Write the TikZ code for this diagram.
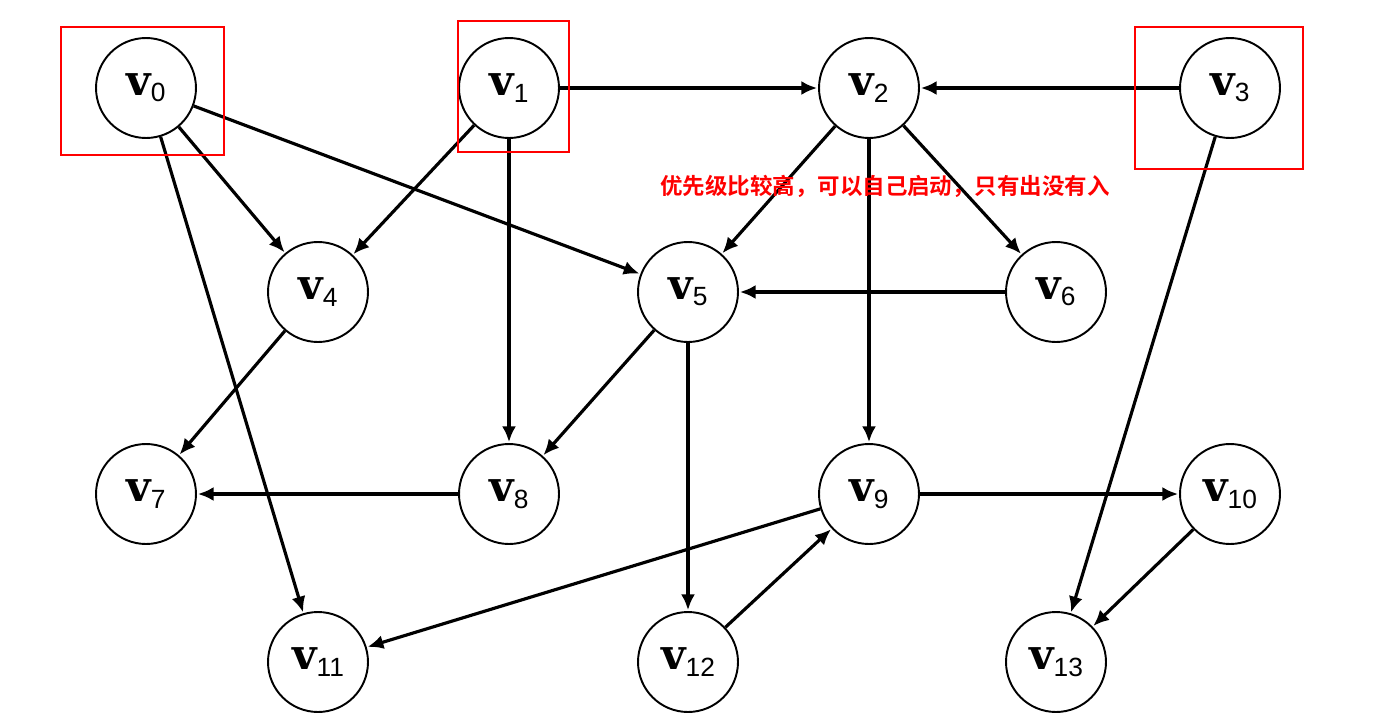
\documentclass[tikz,border=0pt]{standalone}
\usepackage{fontspec}
\usepackage{tikz}
\usetikzlibrary{arrows.meta}
\newfontfamily\vslab{DejaVu Serif}
\newfontfamily\vsub{Liberation Sans}
\newfontfamily\cjk{Noto Sans CJK SC Bold}
\newcommand{\vlab}[1]{{\vslab\bfseries v}\raisebox{-0.35ex}{\vsub\fontsize{15}{15}\selectfont #1}}
\tikzset{
  vert/.style = {draw, circle, line width = 1.1pt, minimum size = 2cm, inner sep = 0pt, font = \fontsize{24}{24}\selectfont},
  arc/.style = {line width = 1.8pt, -{Latex[length = 9pt, width = 8pt]}, shorten >= 0.5pt},
  mark box/.style = {red, line width = 1.1pt}
}

\begin{document}
\begin{tikzpicture}[x = 0.02cm, y = -0.02cm]
        \useasboundingbox (0, 0) rectangle (1384, 717);
        % vertices
        \foreach \n/\x/\y in {0/146/88, 1/509/88, 2/869/88, 3/1230/88,
                              4/318/292, 5/688/292, 6/1056/292,
                              7/146/494, 8/509/494, 9/869/494, 10/1230/494,
                              11/318/662, 12/688/662, 13/1056/662}
        \node[vert] (v\n) at (\x, \y) {\vlab{\n}};
        % edges
        \draw[arc] (v0) -- (v4);
        \draw[arc] (v0) -- (v5);
        \draw[arc] (v0) -- (v11);
        \draw[arc] (v1) -- (v2);
        \draw[arc] (v1) -- (v4);
        \draw[arc] (v1) -- (v8);
        \draw[arc] (v3) -- (v2);
        \draw[arc] (v3) -- (v13);
        \draw[arc] (v2) -- (v5);
        \draw[arc] (v2) -- (v6);
        \draw[arc] (v2) -- (v9);
        \draw[arc] (v6) -- (v5);
        \draw[arc] (v4) -- (v7);
        \draw[arc] (v5) -- (v8);
        \draw[arc] (v5) -- (v12);
        \draw[arc] (v8) -- (v7);
        \draw[arc] (v9) -- (v10);
        \draw[arc] (v9) -- (v11);
        \draw[arc] (v12) -- (v9);
        \draw[arc] (v10) -- (v13);
        % source vertices
        \draw[mark box] (61, 27) rectangle (224, 155);
        \draw[mark box] (458, 21) rectangle (569, 152);
        \draw[mark box] (1135, 27) rectangle (1303, 169);
        \node[red, font = \cjk\fontsize{12.8}{12.8}\selectfont] (note) at (885, 186) {优先级比较高，可以自己启动，只有出没有入};
\end{tikzpicture}
\end{document}
